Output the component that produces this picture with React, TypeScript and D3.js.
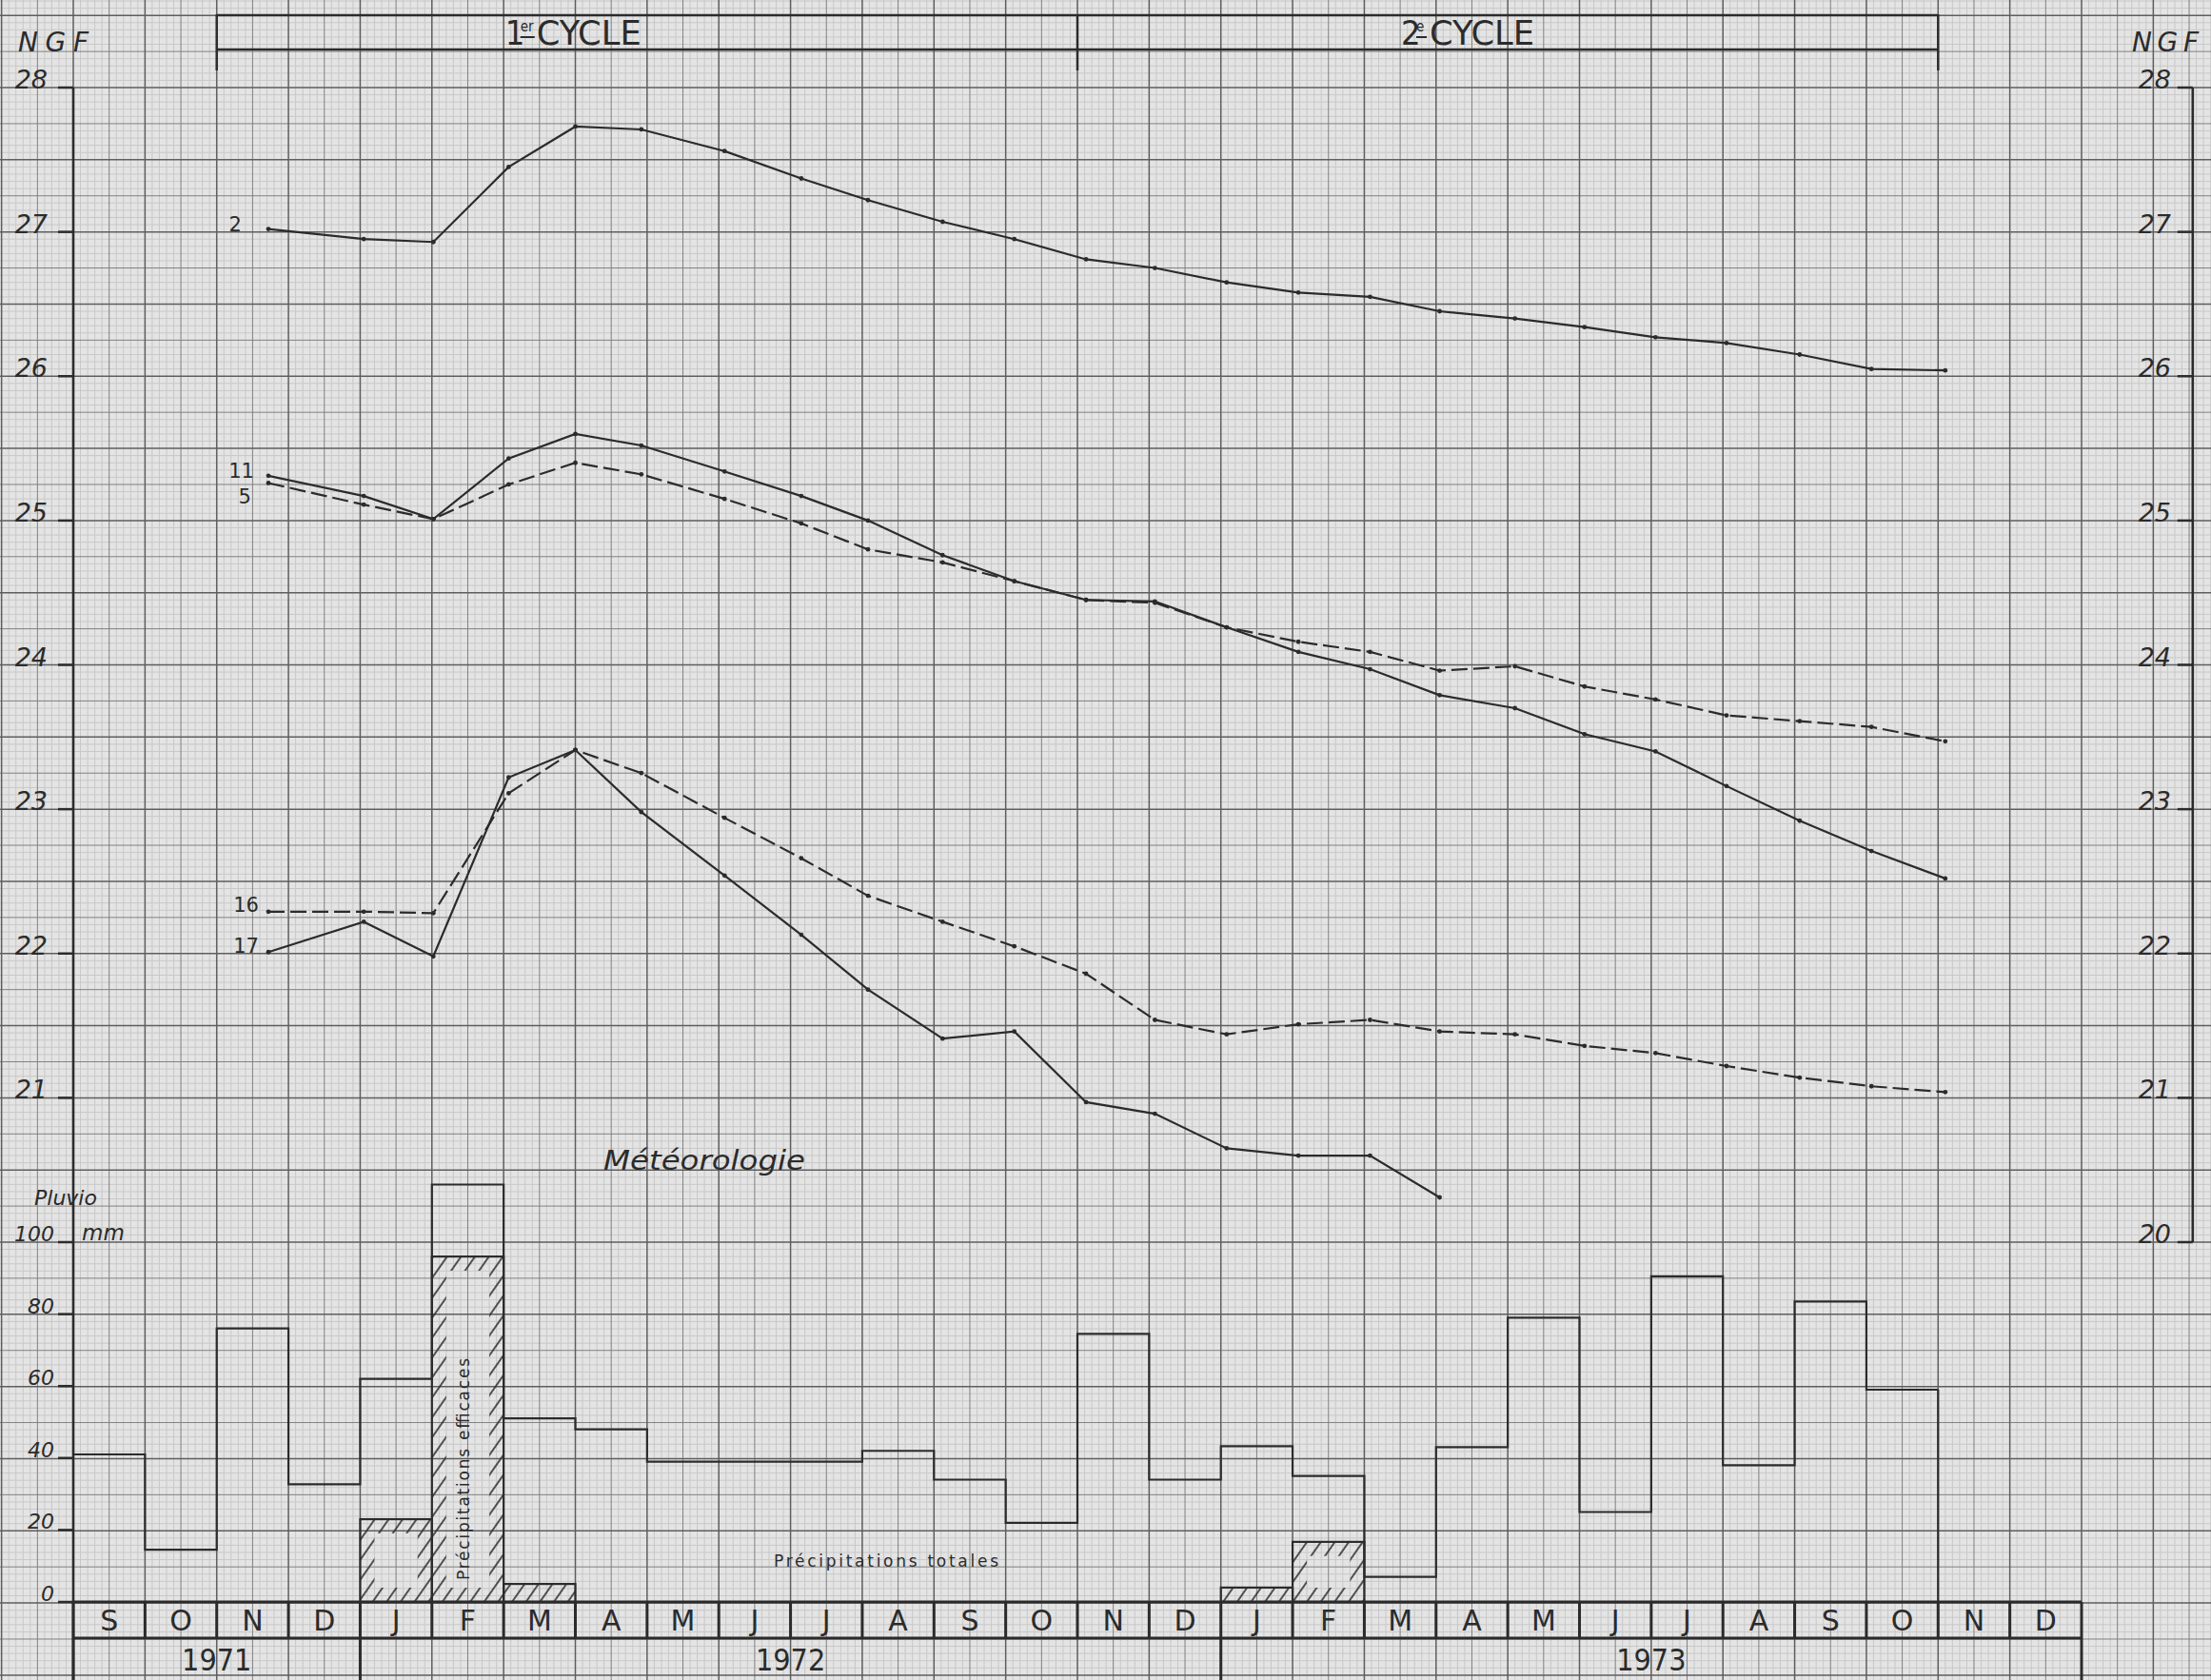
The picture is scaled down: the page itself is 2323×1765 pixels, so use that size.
import * as d3 from "d3";

// months are counted from 1 Sept 1971 (0) to 31 Dec 1973 (28)
const MONTH_LETTERS = ["S", "O", "N", "D", "J", "F", "M", "A", "M", "J", "J", "A", "S", "O", "N", "D", "J", "F", "M", "A", "M", "J", "J", "A", "S", "O", "N", "D"];
const YEAR_LABELS = ["1971", "1972", "1973"];
const YEAR_START = [0, 4, 16];
const YEAR_END = [4, 16, 28];
const CYCLE_NUM = ["1", "2"];
const CYCLE_SUP = ["er", "e"];
const CYCLE_BOUNDS = [2, 14, 26];

const NGF_LEFT_TICKS = [21, 22, 23, 24, 25, 26, 27, 28];
const NGF_RIGHT_TICKS = [20, 21, 22, 23, 24, 25, 26, 27, 28];
const RAIN_TICKS = [0, 20, 40, 60, 80, 100];

// piezometer readings (NGF, m)
const SURVEY_MONTHS = [2.72, 4.05, 5.02, 6.07, 7.0, 7.92, 9.08, 10.15, 11.08, 12.12, 13.12, 14.12, 15.08, 16.08, 17.08, 18.08, 19.05, 20.1, 21.07, 22.06, 23.05, 24.07, 25.07, 26.1];
const P2 = [27.02, 26.95, 26.93, 27.45, 27.73, 27.71, 27.56, 27.37, 27.22, 27.07, 26.95, 26.81, 26.75, 26.65, 26.58, 26.55, 26.45, 26.4, 26.34, 26.27, 26.23, 26.15, 26.05, 26.04];
const P11 = [25.31, 25.17, 25.01, 25.43, 25.6, 25.52, 25.34, 25.17, 25.0, 24.76, 24.58, 24.45, 24.44, 24.26, 24.09, 23.97, 23.79, 23.7, 23.52, 23.4, 23.16, 22.92, 22.71, 22.52];
const P5 = [25.26, 25.11, 25.01, 25.25, 25.4, 25.32, 25.15, 24.98, 24.8, 24.71, 24.58, 24.45, 24.43, 24.26, 24.16, 24.09, 23.96, 23.99, 23.85, 23.76, 23.65, 23.61, 23.57, 23.47];
const P16 = [22.29, 22.29, 22.28, 23.11, 23.41, 23.25, 22.94, 22.66, 22.4, 22.22, 22.05, 21.86, 21.54, 21.44, 21.51, 21.54, 21.46, 21.44, 21.36, 21.31, 21.22, 21.14, 21.08, 21.04];
const P17 = [22.01, 22.22, 21.98, 23.22, 23.41, 22.98, 22.54, 22.13, 21.75, 21.41, 21.46, 20.97, 20.89, 20.65, 20.6, 20.6, 20.31, null, null, null, null, null, null, null];
const SERIES_NAMES = ["2", "11", "5", "16", "17"];
const SERIES_LEVELS = [P2, P11, P5, P16, P17];

// rainfall (mm per month)
const RAIN_TOTAL = [41, 14.5, 76, 32.7, 62, 116, 51, 48, 39, 39, 39, 42, 34, 22, 74.5, 34, 43.3, 35, 7, 43, 79, 25, 90.5, 38, 83.5, 59, null, null];
const RAIN_EFFECTIVE = [0, 0, 0, 0, 23, 96, 5, 0, 0, 0, 0, 0, 0, 0, 0, 0, 4, 16.7, 0, 0, 0, 0, 0, 0, 0, 0, 0, 0];

const W = 2323;
const H = 1765;
const INK = "#2b2b2b";
const FONT = "'DejaVu Sans', 'Noto Sans', sans-serif";

const x = d3.scaleLinear().domain([0, 28]).range([77, 2187]);
const yNgf = d3.scaleLinear().domain([20, 28]).range([1305, 92]);
const yRain = d3.scaleLinear().domain([0, 100]).range([1683, 1305]);

const DASHED = [false, false, true, true, false];
const LABEL_DX = [-28, -15, -18, -10, -10];
const LABEL_DY = [2, 2, 22, 0, 1];

const mod = (a: number, n: number) => ((a % n) + n) % n;

function ring(x0: number, y0: number, x1: number, y1: number, inset: number) {
  let d = `M${x0},${y0}H${x1}V${y1}H${x0}Z`;
  if (x1 - x0 > 2 * inset + 6 && y1 - y0 > 2 * inset + 6) {
    d += `M${x0 + inset},${y0 + inset}V${y1 - inset}H${x1 - inset}V${y0 + inset}Z`;
  }
  return d;
}

export default function App() {
  // graph paper
  const vk = d3.range(Math.floor(x.invert(0) * 10), Math.ceil(x.invert(W) * 10) + 1);
  const hk = d3.range(Math.floor((yNgf.invert(H) - 20) / 0.05), Math.ceil((yNgf.invert(0) - 20) / 0.05) + 1);
  const gridStyle = (k: number) =>
    mod(k, 10) === 0
      ? { stroke: "#5e5e5e", sw: 1.5 }
      : mod(k, 5) === 0
      ? { stroke: "#808080", sw: 1 }
      : { stroke: "#c8c8c8", sw: 1 };

  const line = d3
    .line<[number, number | null]>()
    .defined((d) => d[1] != null)
    .x((d) => x(d[0]))
    .y((d) => yNgf(d[1] as number));

  const rainPts: [number, number][] = [];
  RAIN_TOTAL.forEach((v, i) => {
    if (v != null) rainPts.push([i, v]);
  });
  const lastRain = rainPts[rainPts.length - 1];
  rainPts.push([lastRain[0] + 1, lastRain[1]]);
  const stepLine = d3
    .line<[number, number]>()
    .x((d) => x(d[0]))
    .y((d) => yRain(d[1]))
    .curve(d3.curveStepAfter);

  const yBandTop = yRain(0);
  const yBandMid = yBandTop + 38;

  return (
    <svg width={W} height={H} style={{ position: "absolute", left: 0, top: 0, display: "block" }} fontFamily={FONT}>
      <defs>
        <pattern id="hatch" patternUnits="userSpaceOnUse" width={12} height={12} patternTransform="rotate(35)">
          <line x1={2} y1={0} x2={2} y2={12} stroke={INK} strokeWidth={1.6} />
        </pattern>
      </defs>
      <rect width={W} height={H} fill="#e4e4e4" />

      {/* fine grid first, then medium and heavy on top */}
      {[2, 1, 0].map((level) => (
        <g key={level}>
          {vk
            .filter((k) => (level === 0 ? mod(k, 10) === 0 : level === 1 ? mod(k, 10) === 5 : mod(k, 5) !== 0))
            .map((k) => {
              const s = gridStyle(k);
              const xv = x(k / 10);
              return <line key={k} x1={xv} x2={xv} y1={0} y2={H} stroke={s.stroke} strokeWidth={s.sw} />;
            })}
          {hk
            .filter((k) => (level === 0 ? mod(k, 10) === 0 : level === 1 ? mod(k, 10) === 5 : mod(k, 5) !== 0))
            .map((k) => {
              const s = gridStyle(k);
              const yv = yNgf(20 + k * 0.05);
              return <line key={k} x1={0} x2={W} y1={yv} y2={yv} stroke={s.stroke} strokeWidth={s.sw} />;
            })}
        </g>
      ))}

      {/* cycle bracket */}
      <g stroke={INK} strokeWidth={2.5} fill="none">
        <line x1={x(CYCLE_BOUNDS[0])} x2={x(CYCLE_BOUNDS[2])} y1={16} y2={16} />
        <line x1={x(CYCLE_BOUNDS[0])} x2={x(CYCLE_BOUNDS[2])} y1={52} y2={52} />
        {CYCLE_BOUNDS.map((m) => (
          <line key={m} x1={x(m)} x2={x(m)} y1={15} y2={74} />
        ))}
      </g>
      {CYCLE_NUM.map((n, i) => {
        const x0 = x(CYCLE_BOUNDS[i]) + (i === 0 ? 303 : 340);
        return (
          <g key={n} fill={INK} fontStretch="condensed">
            <text x={x0} y={47} fontSize={36}>{n}</text>
            <text x={x0 + 16} y={33} fontSize={15}>{CYCLE_SUP[i]}</text>
            <line x1={x0 + 16} x2={x0 + (i === 0 ? 31 : 27)} y1={39} y2={39} stroke={INK} strokeWidth={2} />
            <text x={x0 + (i === 0 ? 33 : 30)} y={47} fontSize={36} textLength={110} lengthAdjust="spacingAndGlyphs">CYCLE</text>
          </g>
        );
      })}

      {/* NGF axes */}
      <g fill={INK} fontStyle="italic">
        <text x={19} y={54} fontSize={28} textLength={74} lengthAdjust="spacing">NGF</text>
        <text x={2240} y={54} fontSize={28} textLength={70} lengthAdjust="spacing">NGF</text>
      </g>
      <line x1={x(0)} x2={x(0)} y1={yNgf(28)} y2={H} stroke={INK} strokeWidth={2.6} />
      {NGF_LEFT_TICKS.map((t) => (
        <g key={t}>
          <line x1={x(0) - 16} x2={x(0)} y1={yNgf(t)} y2={yNgf(t)} stroke={INK} strokeWidth={2.5} />
          <text x={50} y={yNgf(t) + 1} textAnchor="end" fontSize={27} fontStyle="italic" fill={INK}>{t}</text>
        </g>
      ))}
      <line x1={x(29.55)} x2={x(29.55)} y1={yNgf(28)} y2={yNgf(20)} stroke={INK} strokeWidth={2.6} />
      {NGF_RIGHT_TICKS.map((t) => (
        <g key={t}>
          <line x1={x(29.55) - 16} x2={x(29.55)} y1={yNgf(t)} y2={yNgf(t)} stroke={INK} strokeWidth={2.5} />
          <text x={2281} y={yNgf(t) + 1} textAnchor="end" fontSize={27} fontStyle="italic" fill={INK}>{t}</text>
        </g>
      ))}

      {/* piezometer curves */}
      {SERIES_LEVELS.map((lv, si) => {
        const pts = SURVEY_MONTHS.map((m, i) => [m, lv[i]] as [number, number | null]);
        return (
          <g key={SERIES_NAMES[si]}>
            <path d={line(pts) || ""} fill="none" stroke={INK} strokeWidth={2.2} strokeDasharray={DASHED[si] ? "17 6" : undefined} />
            {pts
              .filter((p) => p[1] != null)
              .map((p, i) => (
                <circle key={i} cx={x(p[0])} cy={yNgf(p[1] as number)} r={2.4} fill={INK} />
              ))}
            <text x={x(SURVEY_MONTHS[0]) + LABEL_DX[si]} y={yNgf(lv[0] as number) + LABEL_DY[si]} textAnchor="end" fontSize={21} fill={INK}>
              {SERIES_NAMES[si]}
            </text>
          </g>
        );
      })}

      {/* rainfall */}
      <text x={634} y={1229} fontSize={28} fontStyle="italic" fill={INK} textLength={212} lengthAdjust="spacingAndGlyphs">Météorologie</text>
      <text x={36} y={1266} fontSize={22} fontStyle="italic" fill={INK}>Pluvio</text>
      <text x={86} y={1303} fontSize={23} fontStyle="italic" fill={INK}>mm</text>
      {RAIN_TICKS.map((t) => (
        <g key={t}>
          <line x1={x(0) - 16} x2={x(0)} y1={yRain(t)} y2={yRain(t)} stroke={INK} strokeWidth={2.5} />
          <text x={57} y={yRain(t) - 1} textAnchor="end" fontSize={22} fontStyle="italic" fill={INK}>{t}</text>
        </g>
      ))}
      {RAIN_EFFECTIVE.map((v, i) =>
        v > 0 ? (
          <g key={i}>
            <path d={ring(x(i), yRain(v), x(i + 1), yRain(0), 15)} fill="url(#hatch)" fillRule="evenodd" />
            <rect x={x(i)} y={yRain(v)} width={x(i + 1) - x(i)} height={yRain(0) - yRain(v)} fill="none" stroke={INK} strokeWidth={2.2} />
          </g>
        ) : null
      )}
      <path d={stepLine(rainPts) || ""} fill="none" stroke={INK} strokeWidth={2.2} />
      <line x1={x(lastRain[0] + 1)} x2={x(lastRain[0] + 1)} y1={yRain(lastRain[1])} y2={yRain(0)} stroke={INK} strokeWidth={2.2} />
      <text x={493} y={1660} transform="rotate(-90 493 1660)" fontSize={17} fill={INK} textLength={233} lengthAdjust="spacing">
        Précipitations efficaces
      </text>
      <text x={813} y={1646} fontSize={17} fill={INK} textLength={236} lengthAdjust="spacing">Précipitations totales</text>

      {/* month and year band */}
      <g stroke={INK} strokeWidth={3}>
        <line x1={x(0)} x2={x(28)} y1={yBandTop} y2={yBandTop} />
        <line x1={x(0)} x2={x(28)} y1={yBandMid} y2={yBandMid} />
        {d3.range(0, 29).map((m) => (
          <line key={m} x1={x(m)} x2={x(m)} y1={yBandTop} y2={yBandMid} />
        ))}
        {[...YEAR_START, 28].map((m) => (
          <line key={"y" + m} x1={x(m)} x2={x(m)} y1={yBandMid} y2={H} />
        ))}
      </g>
      {MONTH_LETTERS.map((l, i) => (
        <text key={i} x={x(i + 0.5)} y={yBandMid - 8} textAnchor="middle" fontSize={30} fill={INK}>{l}</text>
      ))}
      {YEAR_LABELS.map((l, i) => (
        <text key={l} x={x((YEAR_START[i] + YEAR_END[i]) / 2)} y={H - 10} textAnchor="middle" fontSize={32} fill={INK} fontStretch="condensed">{l}</text>
      ))}
    </svg>
  );
}
